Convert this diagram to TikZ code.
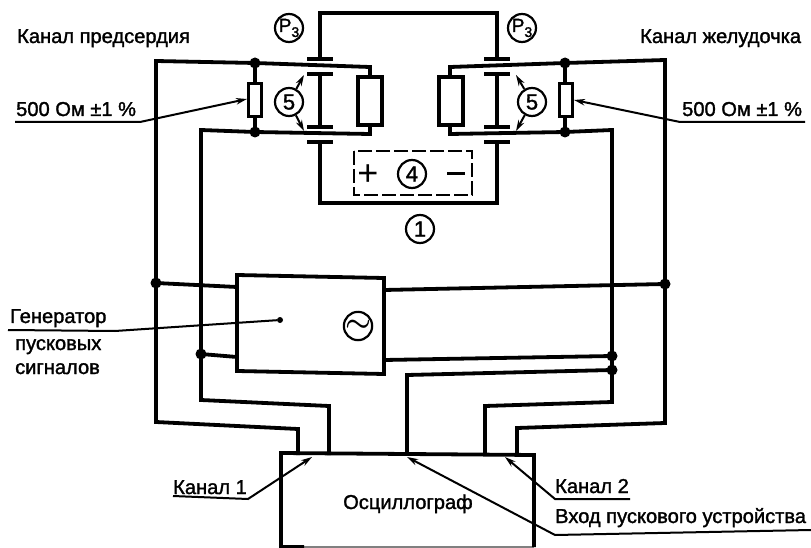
\documentclass[tikz,border=0pt]{standalone}
\usepackage{fontspec}
\setmainfont{Liberation Sans}
\newfontfamily\lblfont[FakeBold=1.5]{Liberation Sans}
\usepackage{tikz}
\usepackage{tkz-euclide}
\usetikzlibrary{arrows.meta}
\tikzset{
  wire/.style={line width=3.8pt,line join=miter},
  lead/.style={line width=2pt},
  tip/.style={-{Stealth[length=11pt,width=6.5pt]}},
  lbl/.style={anchor=base west,inner sep=0pt,font=\lblfont\fontsize{20.1}{22}\selectfont},
  num/.style={draw,circle,line width=2.2pt,fill=white,inner sep=0pt,minimum size=28pt,font=\lblfont\fontsize{22}{22}\selectfont},
  dot/.style={circle,fill=black,inner sep=0pt,minimum size=11pt}
}

\begin{document}
\begin{tikzpicture}[x=1pt,y=-1pt]
\useasboundingbox (0,0) rectangle (811,548);
% left channel
\tkzDefPoint(156,61){LA}
\tkzDefPoint(255,63){LB}
\tkzDefPoint(370,67){LC}
\tkzDefPoint(370,134){LD}
\tkzDefPoint(255,132){LE}
\tkzDefPoint(201,130){LF}
\tkzDefPoint(156,283){LG}
\tkzDefPoint(201,354){LH}
\tkzDefPoint(156,422){LI}
\tkzDefPoint(298,429){LJ}
\tkzDefPoint(298,455){LK}
\tkzDefPoint(201,400){LL}
\tkzDefPoint(329,406){LM}
\tkzDefPoint(329,455){LN}
% right channel
\tkzDefPoint(665,60){RA}
\tkzDefPoint(565,63){RB}
\tkzDefPoint(450,67){RC}
\tkzDefPoint(450,134){RD}
\tkzDefPoint(565,132){RE}
\tkzDefPoint(612,130){RF}
\tkzDefPoint(665,284){RG}
\tkzDefPoint(612,356){RH}
\tkzDefPoint(612,370){RT}
\tkzDefPoint(665,423){RI}
\tkzDefPoint(517,428){RJ}
\tkzDefPoint(517,455){RK}
\tkzDefPoint(612,402){RL}
\tkzDefPoint(485,406){RM}
\tkzDefPoint(485,455){RN}
\tkzDefPoint(407,375){TA}
\tkzDefPoint(407,455){TB}
% relay contacts
\tkzDefPoint(320,59){PA}
\tkzDefPoint(320,13){PB}
\tkzDefPoint(497,13){PC}
\tkzDefPoint(497,59){PD}
\tkzDefPoint(320,142){QA}
\tkzDefPoint(320,203){QB}
\tkzDefPoint(497,203){QC}
\tkzDefPoint(497,142){QD}
\tkzDefPoint(320,74){PE}
\tkzDefPoint(320,127){PF}
\tkzDefPoint(497,74){PG}
\tkzDefPoint(497,127){PH}
% generator and oscilloscope
\tkzDefPoint(237,275){GA}
\tkzDefPoint(384,278){GB}
\tkzDefPoint(384,374){GC}
\tkzDefPoint(237,371){GD}
\tkzDefPoint(237,287){GE}
\tkzDefPoint(237,357){GF}
\tkzDefPoint(384,290){GG}
\tkzDefPoint(384,360){GH}
\tkzDefPoint(280,320){GI}
\tkzDefPoint(281,547){OA}
\tkzDefPoint(281,453){OB}
\tkzDefPoint(534,455){OC}
\tkzDefPoint(534,547){OD}
\tkzDefPoint(304,547){OE}
% wires
\draw[wire] (LK) -- (LJ) -- (LI) -- (LG) -- (LA) -- (LB) -- (LC) -- (LD) -- (LE) -- (LF) -- (LH) -- (LL) -- (LM) -- (LN);
\draw[wire] (RK) -- (RJ) -- (RI) -- (RG) -- (RA) -- (RB) -- (RC) -- (RD) -- (RE) -- (RF) -- (RH) -- (RT) -- (RL) -- (RM) -- (RN);
\draw[wire] (LG) -- (GE);
\draw[wire] (LH) -- (GF);
\draw[wire] (GG) -- (RG);
\draw[wire] (GH) -- (RH);
\draw[wire] (TB) -- (TA) -- (RT);
\draw[wire] (PA) -- (PB) -- (PC) -- (PD);
\draw[wire] (QA) -- (QB) -- (QC) -- (QD);
\draw[wire] (PE) -- (PF);
\draw[wire] (PG) -- (PH);
\draw[wire] (LB) -- (LE);
\draw[wire] (RB) -- (RE);
\draw[wire,fill=white] (GA) -- (GB) -- (GC) -- (GD) -- cycle;
\draw[line width=1.5pt,gray] (OE) -- (OD);
\draw[wire] (OE) -- (OA) -- (OB) -- (OC) -- (OD);
% contact plates
\foreach \a in {PA,PE,PF,QA,PD,PG,PH,QD}
  \draw[wire] ([xshift=-13pt]\a) -- ([xshift=13pt]\a);
% resistors
\node[draw,line width=3pt,fill=white,minimum width=13pt,minimum height=33pt,inner sep=0pt] (RS1) at (255,100) {};
\node[draw,line width=3pt,fill=white,minimum width=13pt,minimum height=33pt,inner sep=0pt] (RS2) at (566,100) {};
\node[draw,line width=3.8pt,fill=white,minimum width=24pt,minimum height=48pt,inner sep=0pt] (RS3) at (370,101) {};
\node[draw,line width=3.8pt,fill=white,minimum width=24pt,minimum height=48pt,inner sep=0pt] (RS4) at (451,101) {};
% junctions
\node[dot] (J1) at (LB) {};
\node[dot] (J2) at (LE) {};
\node[dot] (J3) at (RB) {};
\node[dot] (J4) at (RE) {};
\node[dot] (J5) at (LG) {};
\node[dot] (J6) at (LH) {};
\node[dot] (J7) at (RG) {};
\node[dot] (J8) at (RH) {};
\node[dot] (J9) at (RT) {};
\node[circle,fill=black,inner sep=0pt,minimum size=6pt] (J10) at (GI) {};
% battery
\draw[line width=2pt,dash pattern=on 14pt off 4pt] (354,151) rectangle (472,195);
\node[inner sep=0pt,font=\fontsize{36}{36}\selectfont] (PLUS) at (368,175) {+};
\tkzDefPoint(447,174){MA}
\tkzDefPoint(465,174){MB}
\draw[line width=3pt] (MA) -- (MB);
% numbered circles
\node[num] (N4) at (412,174) {4};
\node[num] (N1) at (420,229) {1};
\node[num,font=\lblfont\fontsize{19}{20}\selectfont] (P1) at (289,28) {\makebox[0pt]{P\raisebox{-5pt}{\fontsize{14}{14}\selectfont 3}}};
\node[num,font=\lblfont\fontsize{19}{20}\selectfont] (P2) at (522,28) {\makebox[0pt]{P\raisebox{-5pt}{\fontsize{14}{14}\selectfont 3}}};
\node[num] (N5) at (289,102) {5};
\node[num] (N6) at (532,102) {5};
\node[num] (TL) at (358,326) {\scalebox{1.4}{\boldmath$\sim$}};
\tkzDefPoint(304,75){AA}
\tkzDefPoint(304,131){AB}
\tkzDefPoint(516,75){AC}
\tkzDefPoint(516,131){AD}
\draw[lead,tip] (N5) -- (AA);
\draw[lead,tip] (N5) -- (AB);
\draw[lead,tip] (N6) -- (AC);
\draw[lead,tip] (N6) -- (AD);
% labels and leaders
\node[lbl] (T1) at (17,43) {Канал предсердия};
\node[lbl] (T2) at (640,43) {Канал желудочка};
\node[lbl] (T3) at (16,116) {500 Ом ±1 \%};
\node[lbl] (T4) at (682,116) {500 Ом ±1 \%};
\node[lbl] (T5) at (10,323) {Генератор};
\node[lbl] (T6) at (15,350) {пусковых};
\node[lbl] (T7) at (15,374) {сигналов};
\node[lbl] (T8) at (173,494) {Канал 1};
\node[lbl] (T9) at (555,493) {Канал 2};
\node[lbl] (T10) at (555,523) {Вход пускового устройства};
\node[lbl] (T11) at (343,509) {Осциллограф};
\tkzDefPoint(15,122){UA}
\tkzDefPoint(140,122){UB}
\tkzDefPoint(247,99){UC}
\tkzDefPoint(805,122){UD}
\tkzDefPoint(680,122){UE}
\tkzDefPoint(574,100){UF}
\tkzDefPoint(8,330){UG}
\tkzDefPoint(115,331){UH}
\tkzDefPoint(173,496){UI}
\tkzDefPoint(248,499){UJ}
\tkzDefPoint(312,457){UK}
\tkzDefPoint(630,499){UL}
\tkzDefPoint(555,499){UM}
\tkzDefPoint(505,457){UN}
\tkzDefPoint(811,530){UO}
\tkzDefPoint(555,535){UP}
\tkzDefPoint(407,457){UQ}
\draw[lead,tip] (UA) -- (UB) -- (UC);
\draw[lead,tip] (UD) -- (UE) -- (UF);
\draw[lead] (UG) -- (UH) -- (J10);
\draw[lead,tip] (UI) -- (UJ) -- (UK);
\draw[lead,tip] (UL) -- (UM) -- (UN);
\draw[lead,tip] (UO) -- (UP) -- (UQ);
\end{tikzpicture}
\end{document}
